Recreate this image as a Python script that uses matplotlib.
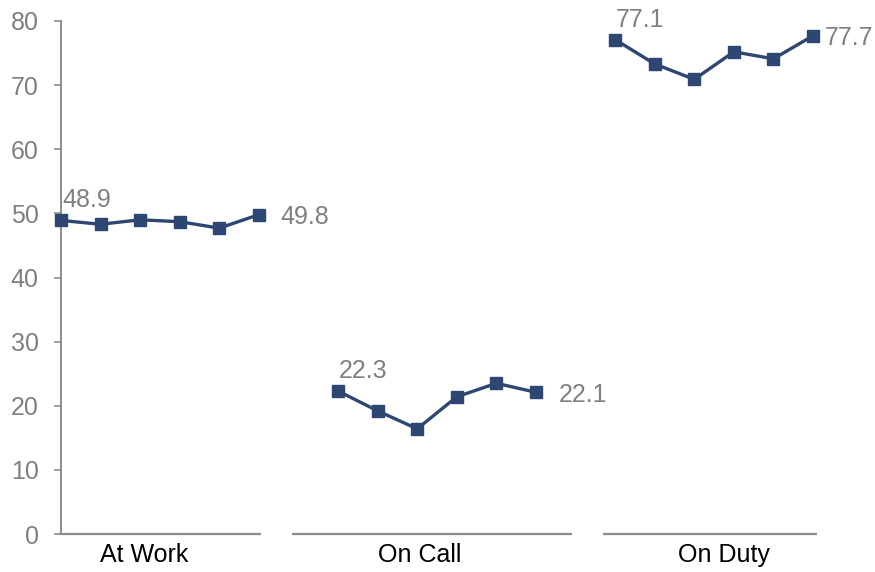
import matplotlib.pyplot as plt

# --- Data ---
groups = ["At Work", "On Call", "On Duty"]
at_work = [48.9, 48.3, 49.0, 48.7, 47.7, 49.8]
on_call = [22.3, 19.2, 16.4, 21.4, 23.5, 22.1]
on_duty = [77.1, 73.3, 70.9, 75.2, 74.1, 77.7]
y_ticks = [0, 10, 20, 30, 40, 50, 60, 70, 80]

LINE_COLOR = "#2E4672"
GREY = "#808080"
AXIS_GREY = "#8C8C8C"
PX = 0.72  # points per pixel at dpi 100

plt.rcParams["font.family"] = ["Liberation Sans", "DejaVu Sans"]

fig = plt.figure(figsize=(8.75, 5.72), dpi=100)
ax = fig.add_axes([61 / 875, 1 - 534 / 572, (852.6 - 61) / 875, (534 - 21) / 572])

series = [at_work, on_call, on_duty]
end_label_dx = [21, 23, 12]  # horizontal gap (px) for the closing value label
gap = 7  # each group takes six slots plus a one-slot gap
for g, values in enumerate(series):
    xs = [g * gap + i for i in range(len(values))]
    ax.plot(xs, values, color=LINE_COLOR, linewidth=2.4,
            marker="s", markersize=8.6, clip_on=False, zorder=3)
    # first and last values labelled
    ax.annotate(f"{values[0]:.1f}", (xs[0], values[0]),
                xytext=(1 * PX, 20 * PX), textcoords="offset points",
                ha="left", va="center", fontsize=18, color=GREY)
    ax.annotate(f"{values[-1]:.1f}", (xs[-1], values[-1]),
                xytext=(end_label_dx[g] * PX, -2.5 * PX), textcoords="offset points",
                ha="left", va="center", fontsize=18, color=GREY)

# broken baseline, one segment per group
seg_bounds = [(-0.05, 5.05), (5.84, 12.9), (13.7, 19.1)]
for lo, hi in seg_bounds:
    ax.plot([lo, hi], [0, 0], color=AXIS_GREY, linewidth=1.6,
            clip_on=False, solid_capstyle="butt", zorder=2)

label_x = [2.1, 9.05, 16.75]
for x, name in zip(label_x, groups):
    ax.text(x, -1.4, name, ha="center", va="top", fontsize=18, color="black")

ax.set_xlim(0, 20)
ax.set_ylim(0, 80)
ax.set_xticks([])
ax.set_yticks(y_ticks)
ax.tick_params(axis="y", colors=AXIS_GREY, labelcolor=GREY, labelsize=18,
               length=5, width=1.2, pad=11)

for side in ["top", "right", "bottom"]:
    ax.spines[side].set_visible(False)
ax.spines["left"].set_color(AXIS_GREY)
ax.spines["left"].set_linewidth(1.4)

fig.savefig("out.png", dpi=100)
